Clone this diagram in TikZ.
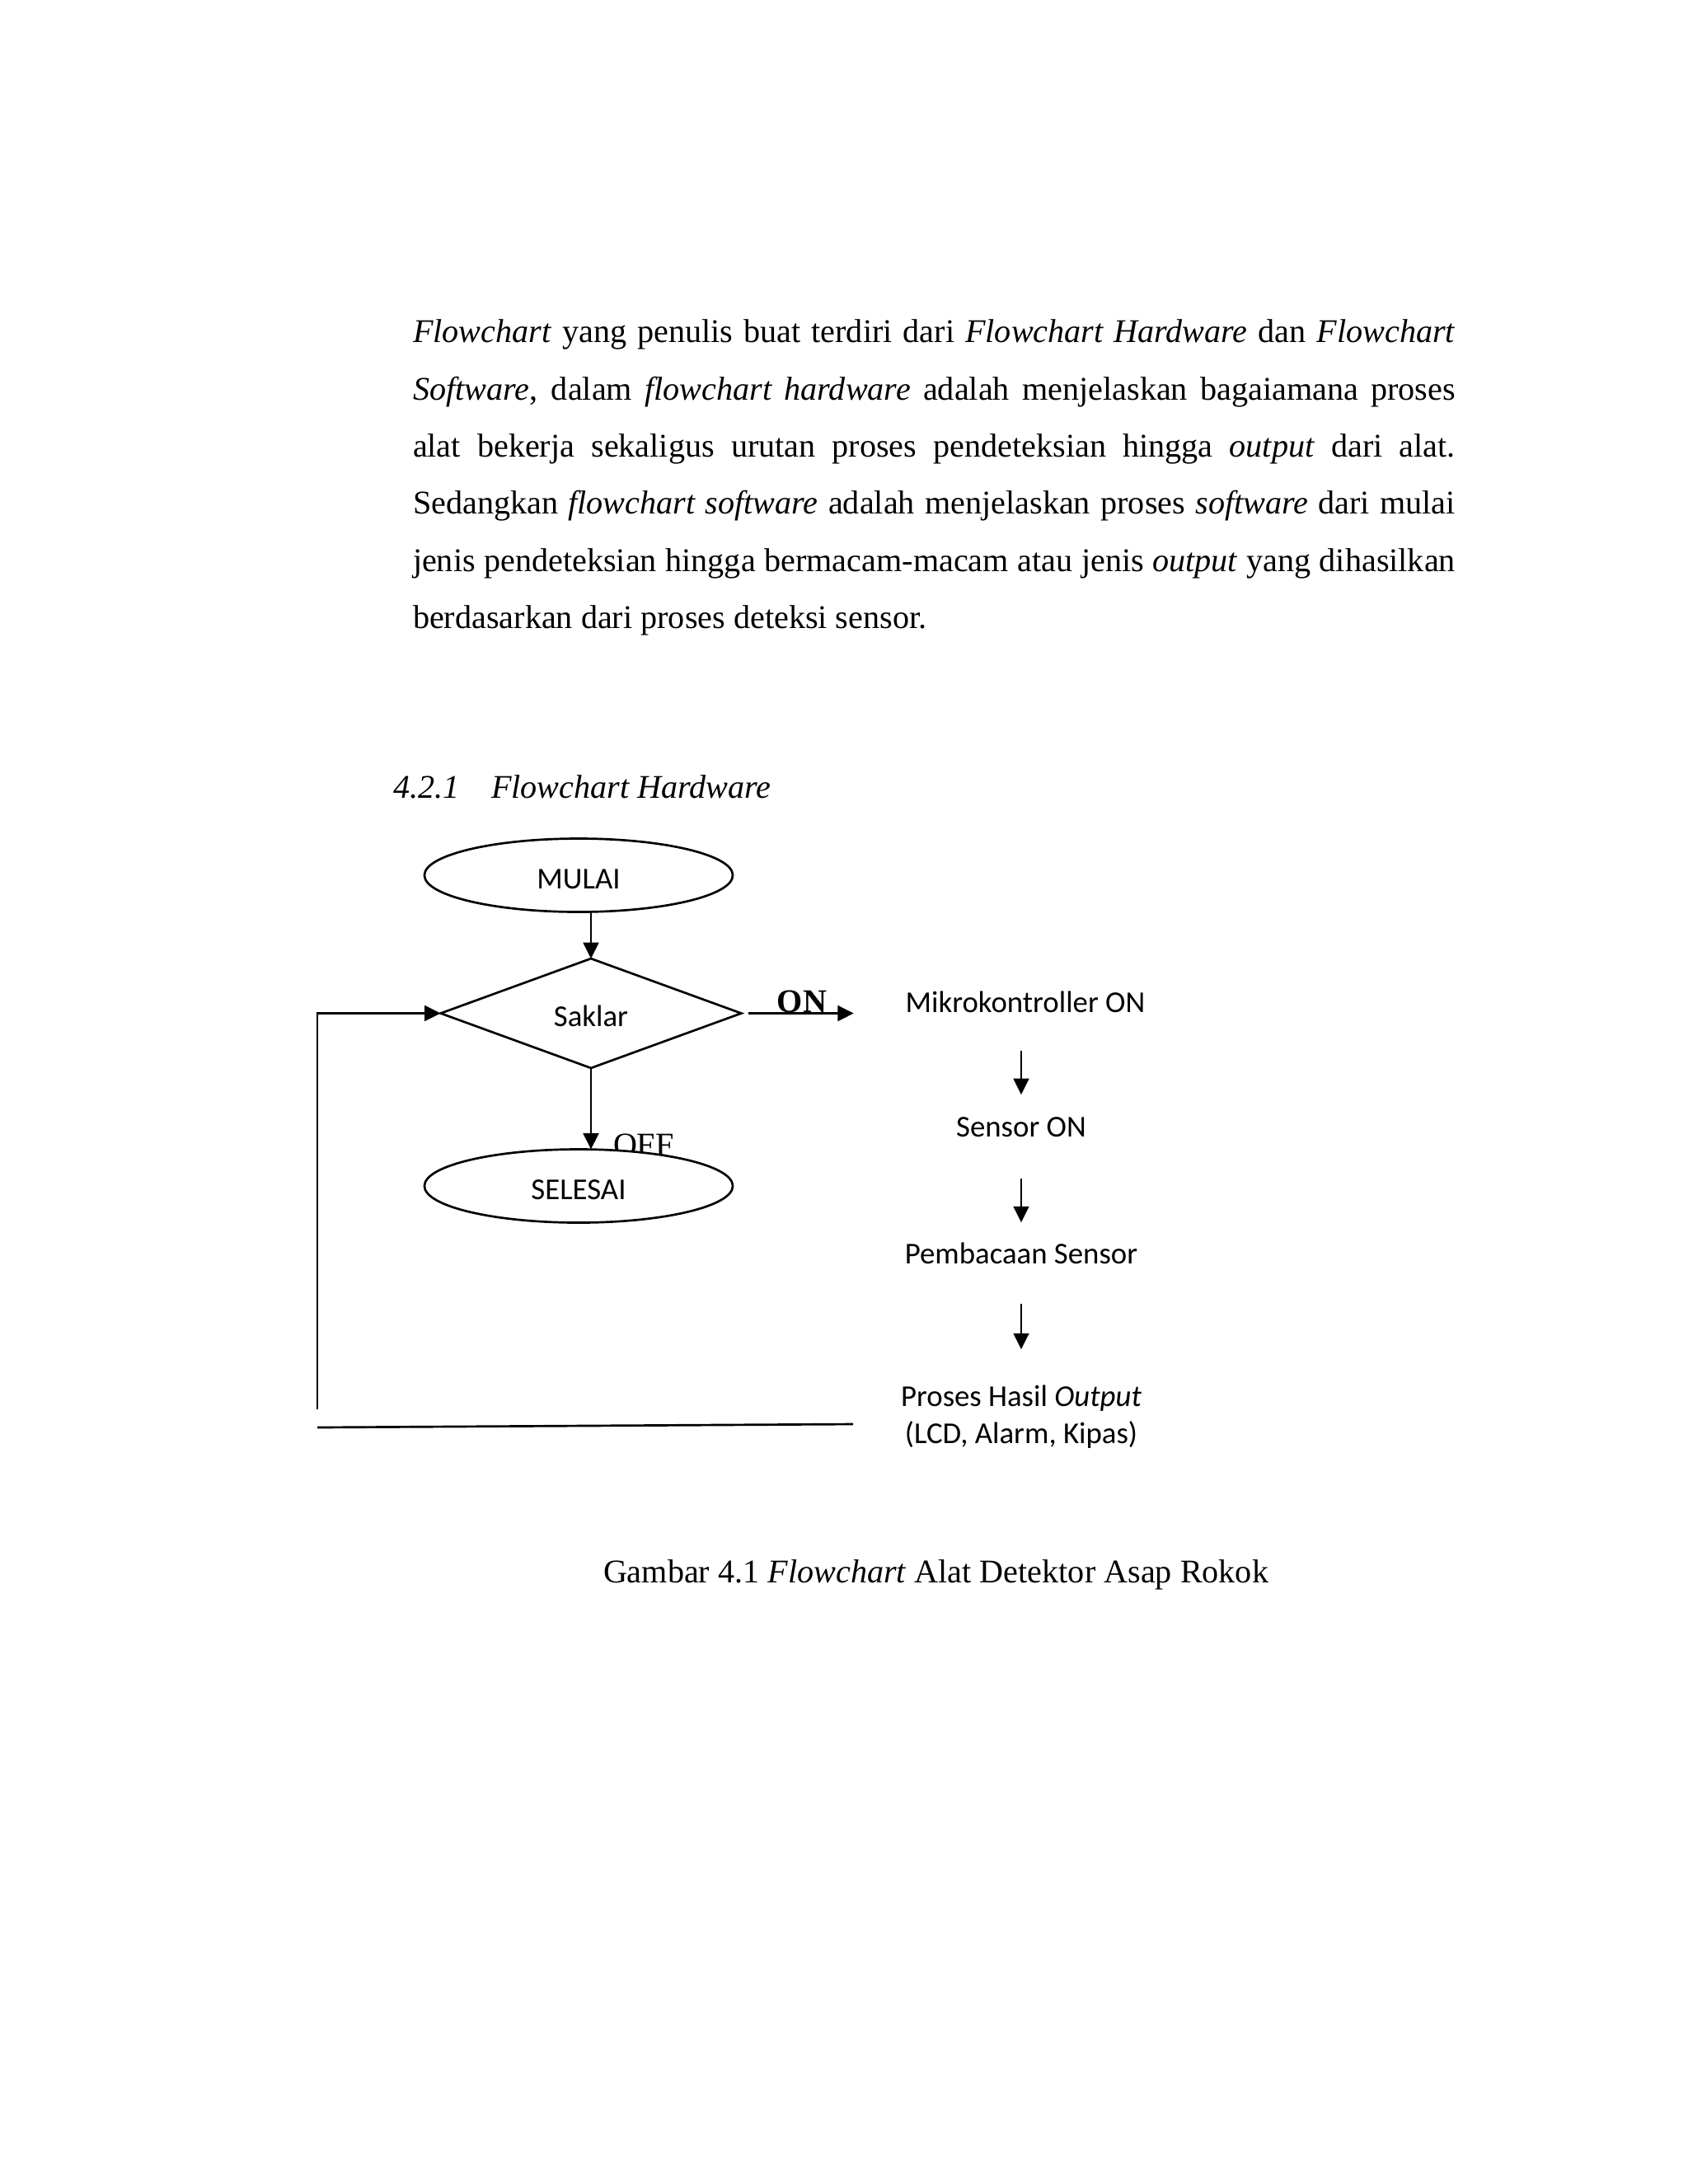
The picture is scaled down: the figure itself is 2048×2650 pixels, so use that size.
\documentclass[tikz,border=0pt]{standalone}
\usepackage{fontspec}
\setmainfont{Liberation Serif}
\newfontfamily\carlito{Carlito}
\usetikzlibrary{shapes.geometric,arrows.meta}
\begin{document}
\begin{tikzpicture}[x=0.298828pt,y=-0.298828pt,
  font=\fontsize{12pt}{14pt}\selectfont,
  every node/.style={inner sep=0pt, outer sep=0pt},
  ln/.style={line width=0.8pt},
  arr/.style={ln,-{Triangle[length=5.8pt,width=5.6pt]}},
  diafont/.style={font=\carlito\fontsize{11pt}{13.4pt}\selectfont},
  term/.style={ellipse, draw, ln, fill=white, minimum width=111.8pt, minimum height=26.6pt, diafont, text height=10pt, text depth=0pt},
  decis/.style={diamond, draw, ln, minimum width=109pt, minimum height=39.7pt, diafont, text height=9.5pt, text depth=0pt},
  proc/.style={diafont, text height=8pt, text depth=3pt, anchor=base},
  para/.style={anchor=base west}
]
\fill[white] (0,0) rectangle (2048,2650);
\useasboundingbox (0,0) rectangle (2048,2650);

% paragraph
\node[para] (p1) at (501,415) {\makebox[378pt][s]{\textit{Flowchart} yang penulis buat terdiri dari \textit{Flowchart Hardware} dan \textit{Flowchart}}};
\node[para] (p2) at (501,485) {\makebox[378pt][s]{\textit{Software}, dalam \textit{flowchart hardware} adalah menjelaskan bagaiamana proses}};
\node[para] (p3) at (501,554) {\makebox[378pt][s]{alat bekerja sekaligus urutan proses pendeteksian hingga \textit{output} dari alat.}};
\node[para] (p4) at (501,623) {\makebox[378pt][s]{Sedangkan \textit{flowchart software} adalah menjelaskan proses \textit{software} dari mulai}};
\node[para] (p5) at (501,693) {\makebox[378pt][s]{jenis pendeteksian hingga bermacam-macam atau jenis \textit{output} yang dihasilkan}};
\node[para] (p6) at (501,762) {berdasarkan dari proses deteksi sensor.};

% heading
\node[para] (h1) at (477,968) {\textit{4.2.1}};
\node[para] (h2) at (596,968) {\textit{Flowchart Hardware}};

% left part of flowchart
\node[term] (mulai) at (702,1062) {MULAI};
\node[decis] (saklar) at (717,1229.5) {Saklar};
\node[anchor=base west] (off) at (744,1402) {OFF};
\node[term] (selesai) at (702,1439) {SELESAI};

\draw[arr] (mulai.south -| saklar.north) -- (saklar.north);
\draw[arr] (saklar.south) -- (saklar.south |- selesai.north);

% right column
\node[proc] (mikro) at (1244,1228) {Mikrokontroller ON};
\node[proc] (sensor) at (1239,1379) {Sensor ON};
\node[proc] (pemb) at (1239,1533) {Pembacaan Sensor};
\node[diafont, anchor=north, align=center] (proses) at (1239,1681) {Proses Hasil \textit{Output}\\(LCD, Alarm, Kipas)};

\draw[arr] ([yshift=-11pt]mikro.south -| sensor.north) -- ([yshift=7.2pt]sensor.north);
\draw[arr] ([yshift=-12.3pt]sensor.south) -- ([yshift=6.9pt]pemb.north);
\draw[arr] ([yshift=-11.7pt]pemb.south) -- ([yshift=13.1pt]proses.north);

% ON branch
\draw[arr] ([xshift=2.7pt]saklar.east) -- ([xshift=-18.8pt]mikro.west |- saklar.east);
\node[anchor=base, font=\bfseries\fontsize{12pt}{14pt}\selectfont] (on) at (973,1228) {ON};

% loop back
\coordinate (lb) at (385,1710);
\coordinate (ll) at (385,1732);
\coordinate (lr) at (1035,1728);
\draw[ln] (ll) -- (lr);
\draw[arr] (lb) |- (saklar.west);

% caption
\node[para] (cap) at (732,1920) {Gambar 4.1 \textit{Flowchart} Alat Detektor Asap Rokok};
\end{tikzpicture}
\end{document}
